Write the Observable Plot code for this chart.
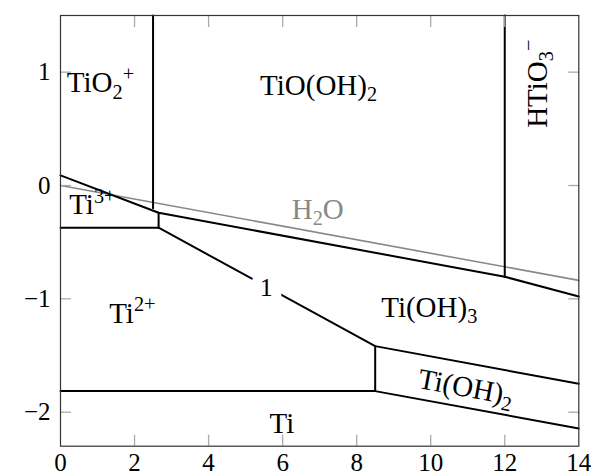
<!DOCTYPE html>
<html>
<head>
<meta charset="utf-8">
<script src="https://cdn.jsdelivr.net/npm/d3@7"></script>
<script src="https://cdn.jsdelivr.net/npm/@observablehq/plot@0.6"></script>
<style>
  html, body { margin: 0; padding: 0; background: #fff; }
  svg { overflow: visible; }
  svg text, svg tspan { font-family: "Liberation Serif", "Times New Roman", serif !important; }
</style>
</head>
<body>
<div id="chart"></div>
<script>
// ---- data (pH, E in volts) ----
const xDomain = [0, 14];
const yDomain = [-2.3, 1.5];
const xTicks = [0, 2, 4, 6, 8, 10, 12, 14];
const yTicks = [-2, -1, 0, 1];

const lineUpper      = [[0, 0.09], [2.65, -0.24], [12, -0.805], [14, -0.98]];
const lineTiO2p      = [[2.5, 1.5], [2.5, -0.2]];
const lineHTiO3      = [[12, 1.5], [12, -0.805]];
const lineTi3Vert    = [[2.65, -0.24], [2.65, -0.372]];
const lineTi3Ti2     = [[0, -0.372], [2.65, -0.372]];
const line1          = [[2.65, -0.372], [8.5, -1.417], [14, -1.749]];
const lineTiOH2Vert  = [[8.5, -1.417], [8.5, -1.814]];
const lineTi         = [[0, -1.814], [8.5, -1.814], [14, -2.143]];
const waterLine      = [[0, 0], [14, -0.837]];

const blackLines = [lineUpper, lineTiO2p, lineHTiO3, lineTi3Vert, lineTi3Ti2, line1, lineTiOH2Vert, lineTi];

const labelTexts  = ["TiO_2^+", "TiO(OH)_2", "HTiO_3^−", "Ti^{3+}", "Ti^{2+}", "Ti(OH)_3", "Ti(OH)_2", "Ti"];
const labelX      = [1.08, 6.97, 12.88, 0.86, 1.94, 9.96, 10.95, 5.98];
const labelY      = [0.905, 0.88, 0.898, -0.172, -1.13, -1.078, -1.78, -2.10];
const labelRotate = [0, 0, -90, 0, 0, 0, 10.5, 0];

const waterLabel = [{text: "H_2O", x: 6.95, y: -0.212}];
const line1Label = [{text: "1", x: 5.56, y: -0.902}];

// ---- build ----
const labels = labelTexts.map((t, i) => ({text: t, x: labelX[i], y: labelY[i], rotate: labelRotate[i]}));
const font = "Liberation Serif";
const inner = (ticks, dom) => ticks.filter(t => t > dom[0] && t < dom[1]);

const marks = [
  Plot.line(waterLine, {x: d => d[0], y: d => d[1], stroke: "#888", strokeWidth: 1.6}),
  ...blackLines.map(L => Plot.line(L, {x: d => d[0], y: d => d[1], stroke: "#000", strokeWidth: 2, strokeLinejoin: "miter"})),
  Plot.text(line1Label, {x: "x", y: "y", text: "text", fontSize: 26, fontFamily: font, fill: "#000",
    stroke: "#fff", strokeWidth: 20, paintOrder: "stroke", strokeLinejoin: "round"}),
  Plot.text(labels, {x: "x", y: "y", text: "text", rotate: "rotate", fontSize: 29, fontFamily: font, fill: "#000"}),
  Plot.text(waterLabel, {x: "x", y: "y", text: "text", fontSize: 29, fontFamily: font, fill: "#888"}),
  // inward ticks on all four sides
  Plot.axisX({anchor: "bottom", ticks: inner(xTicks, xDomain), tickSize: -11, text: null, stroke: "#aaa", strokeWidth: 1.3}),
  Plot.axisX({anchor: "top", ticks: inner(xTicks, xDomain), tickSize: -11, text: null, stroke: "#aaa", strokeWidth: 1.3}),
  Plot.axisY({anchor: "left", ticks: inner(yTicks, yDomain), tickSize: -11, text: null, stroke: "#aaa", strokeWidth: 1.3}),
  Plot.axisY({anchor: "right", ticks: inner(yTicks, yDomain), tickSize: -11, text: null, stroke: "#aaa", strokeWidth: 1.3}),
  // tick labels
  Plot.axisX({anchor: "bottom", ticks: xTicks, tickFormat: "d", tickSize: 0, tickPadding: 7, fontSize: 25, fontFamily: font, fill: "#000", label: null}),
  Plot.axisY({anchor: "left", ticks: yTicks, tickFormat: "d", tickSize: 0, tickPadding: 10, fontSize: 25, fontFamily: font, fill: "#000", label: null}),
  Plot.frame({stroke: "#333", strokeWidth: 1.2})
];

const chart = Plot.plot({
  width: 591,
  height: 475,
  marginLeft: 60,
  marginRight: 12.7,
  marginTop: 15,
  marginBottom: 29.3,
  style: {background: "#fff", fontFamily: font},
  x: {domain: xDomain, label: null},
  y: {domain: yDomain, label: null},
  marks
});

// rich text: _x subscript, ^x superscript
function richText(node) {
  const s = node.textContent;
  if (!/[_^]/.test(s)) return;
  node.textContent = "";
  const re = /([_^])(?:\{([^}]*)\}|(.))|([^_^]+)/g;
  let m, cur = 0;
  while ((m = re.exec(s))) {
    let txt, scale, target;
    if (m[4] !== undefined) { txt = m[4]; scale = 1; target = 0; }
    else { txt = m[2] !== undefined ? m[2] : m[3]; scale = 0.7; target = m[1] === "_" ? 0.22 : -0.4; }
    const t = document.createElementNS("http://www.w3.org/2000/svg", "tspan");
    if (scale !== 1) t.setAttribute("font-size", "70%");
    const delta = target - cur;
    if (delta) t.setAttribute("dy", (delta / scale).toFixed(3) + "em");
    cur = target;
    t.textContent = txt;
    node.appendChild(t);
  }
}
d3.select(chart).selectAll("text").each(function() { richText(this); });

document.getElementById("chart").appendChild(chart);
</script>
</body>
</html>
